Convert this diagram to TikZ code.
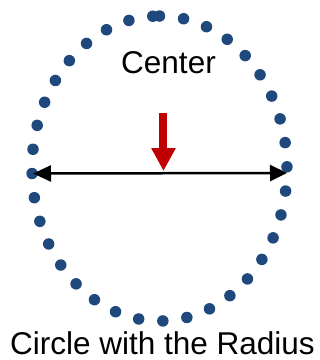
\documentclass[tikz,border=0pt]{standalone}
\usepackage{fontspec}
\setmainfont{Liberation Sans}
\usetikzlibrary{arrows.meta}
\definecolor{dotblue}{RGB}{31,73,125}
\definecolor{arrowred}{RGB}{192,0,0}
\tikzset{
	dotring/.style={dotblue, line width=11.5pt, line cap=round, dash pattern={on 0pt off 24.3pt}},
	bigtext/.style={anchor=base, inner sep=0pt, font=\fontsize{31.5}{36}\selectfont},
	radiusline/.style={line width=2.5pt, {Triangle[width=16pt,length=18pt]}-{Triangle[width=16pt,length=17pt]}},
	centerarrow/.style={arrowred, line width=8pt, -{Triangle[width=23pt,length=23pt]}}
}
\begin{document}
\begin{tikzpicture}[x=1pt, y=-1pt]
			\useasboundingbox (0, 0) rectangle (320, 360);
			\draw[dotring] (159.5, 16) arc[start angle=-90, end angle=270, x radius=127.5, y radius=152.5];
			\node[bigtext](centerlabel) at (168.5, 73){Center};
			\node[bigtext](caption) at (162.5, 354.5){Circle with the Radius};
			\coordinate (leftend) at (33, 173.5);
			\coordinate (rightend) at (287, 173);
			\coordinate (arrowtop) at (163.5, 113);
			\coordinate (arrowtip) at (163.5, 171);
			\draw[radiusline] (leftend) -- (rightend);
			\draw[centerarrow] (arrowtop) -- (arrowtip);
		\end{tikzpicture}
\end{document}
